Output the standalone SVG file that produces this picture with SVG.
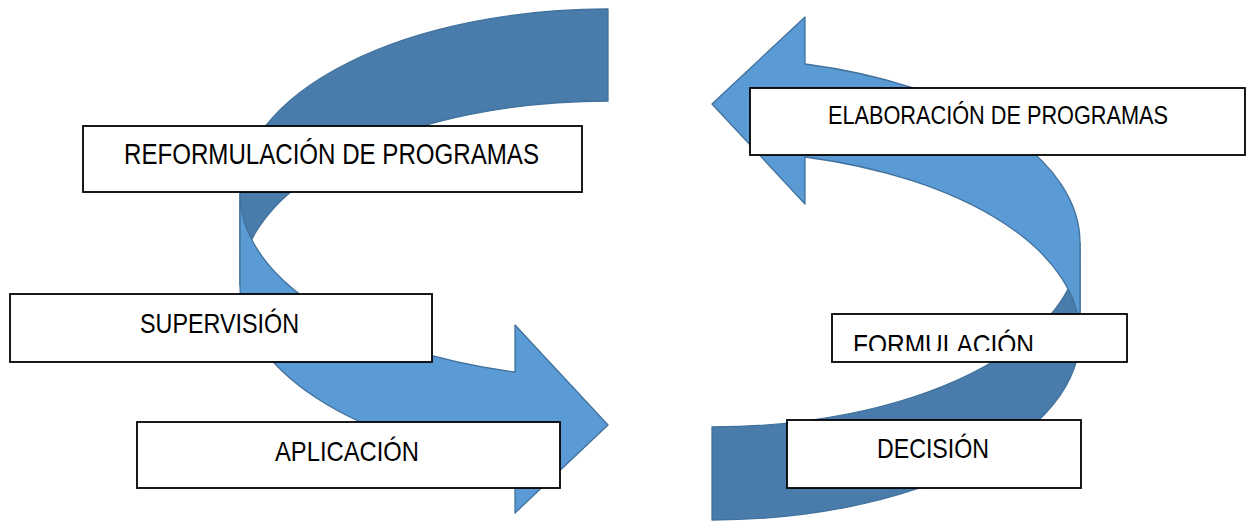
<svg xmlns="http://www.w3.org/2000/svg" width="1256" height="521" viewBox="0 0 1256 521">
<style>
.back{fill:#497CAA;stroke:#41719C;stroke-width:1.3;stroke-linejoin:round}
.front{fill:#5B9BD5;stroke:#41719C;stroke-width:1.3;stroke-linejoin:round}
.box{fill:#FFFFFF;stroke:#000000;stroke-width:1.8}
.lbl{font-family:"Liberation Sans Narrow","Liberation Sans",Arial,sans-serif;fill:#000000}
</style>
<defs>
<clipPath id="clipForm"><rect x="832" y="314" width="295" height="37"/></clipPath>
</defs>
<g id="connectors">
<g id="arrow-left">
<path class="back" d="M608,9 A368,184.5 0 0 0 240,193.5 L240,285.5 A368,184.5 0 0 1 608,101 Z"/>
<path class="front" d="M240,193.5 A368,184.5 0 0 0 515,372 L515,325 L608,425 L515,513 L515,464 A368,184.5 0 0 1 240,285.5 Z"/>
</g>
<g id="arrow-right">
<path class="back" d="M712,427 A368,184.5 0 0 0 1080,242.5 L1080,335.5 A368,184.5 0 0 1 712,520 Z"/>
<path class="front" d="M805,64 A368,184.5 0 0 1 1080,242.5 L1080,335.5 A368,184.5 0 0 0 805,157 L805,204 L712,104 L805,17 Z"/>
</g>
</g>
<g id="node-reformulacion">
<rect class="box" x="83" y="126" width="499" height="66"/>
<text class="lbl" x="124" y="164" font-size="29" textLength="415" lengthAdjust="spacingAndGlyphs">REFORMULACIÓN DE PROGRAMAS</text>
</g>
<g id="node-supervision">
<rect class="box" x="10" y="294" width="422" height="68"/>
<text class="lbl" x="140" y="333" font-size="28" textLength="159" lengthAdjust="spacingAndGlyphs">SUPERVISIÓN</text>
</g>
<g id="node-aplicacion">
<rect class="box" x="137" y="422" width="423" height="66"/>
<text class="lbl" x="275" y="461" font-size="28" textLength="144" lengthAdjust="spacingAndGlyphs">APLICACIÓN</text>
</g>
<g id="node-elaboracion">
<rect class="box" x="750" y="88" width="495" height="67"/>
<text class="lbl" x="828" y="124" font-size="26" textLength="340" lengthAdjust="spacingAndGlyphs">ELABORACIÓN DE PROGRAMAS</text>
</g>
<g id="node-formulacion">
<rect class="box" x="832" y="314" width="295" height="48"/>
<text class="lbl" x="853" y="354" font-size="28" textLength="181" lengthAdjust="spacingAndGlyphs" clip-path="url(#clipForm)">FORMULACIÓN</text>
</g>
<g id="node-decision">
<rect class="box" x="787" y="420" width="294" height="68"/>
<text class="lbl" x="877" y="458" font-size="28" textLength="112" lengthAdjust="spacingAndGlyphs">DECISIÓN</text>
</g>
</svg>
